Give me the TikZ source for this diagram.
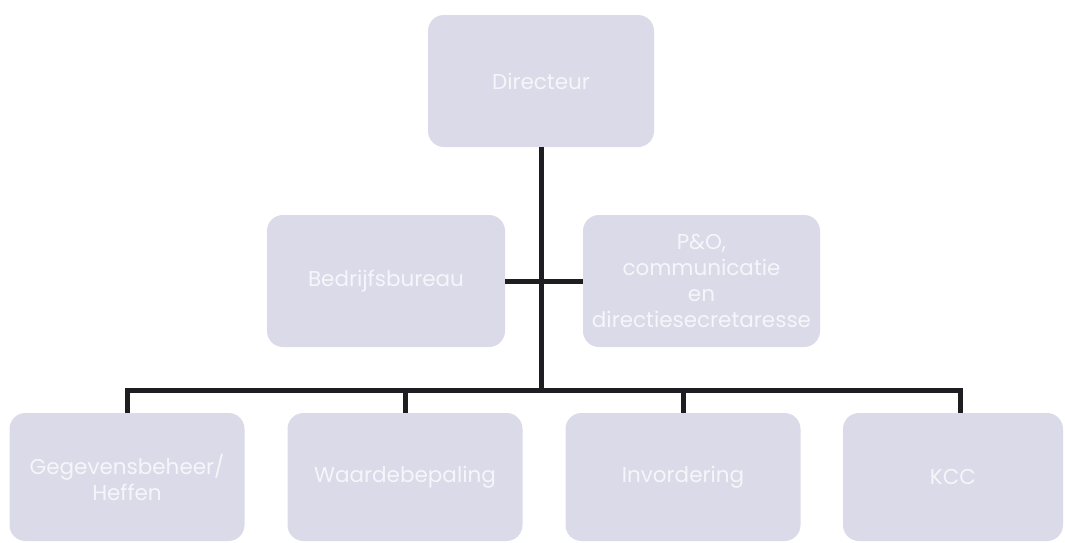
\documentclass[tikz,border=0pt]{standalone}
\usepackage{fontspec}
\setmainfont{Poppins}
\definecolor{boxfill}{RGB}{218,218,232}
\definecolor{linecol}{RGB}{30,30,34}
\definecolor{txt}{RGB}{246,246,250}
\begin{document}
\begin{tikzpicture}[x=1pt,y=-1pt,
  orgbox/.style={fill=boxfill, draw=none, rounded corners=16pt, text=txt,
    align=center, inner sep=1pt, font=\fontsize{21.5}{26}\selectfont},
  conn/.style={draw=linecol, line width=5pt, line join=miter}]
\useasboundingbox (0,0) rectangle (1065,542);
\node[orgbox, minimum width=226pt, minimum height=132pt] (dir) at (541,81) {Directeur};
\node[orgbox, minimum width=238pt, minimum height=132pt] (bb) at (386,281) {Bedrijfsbureau};
\node[orgbox, minimum width=237pt, minimum height=132pt] (po) at (701.5,281) {P\&O,\\communicatie\\en\\directiesecretaresse};
\node[orgbox, minimum width=235pt, minimum height=128pt] (g1) at (127,477) {Gegevensbeheer/\\Heffen};
\node[orgbox, minimum width=235pt, minimum height=128pt] (g2) at (405,477) {Waardebepaling};
\node[orgbox, minimum width=235pt, minimum height=128pt] (g3) at (683,477) {Invordering};
\node[orgbox, minimum width=220pt, minimum height=128pt] (g4) at (953,477) {KCC};
\coordinate (hub) at (541,390);
\draw[conn] (dir.south) -- (hub);
\draw[conn] (bb.east) -- (po.west);
\draw[conn] (g1.north) |- (hub) -| ([xshift=7pt]g4.north);
\draw[conn] (g2.north) |- (hub);
\draw[conn] (g3.north) |- (hub);
\end{tikzpicture}
\end{document}
